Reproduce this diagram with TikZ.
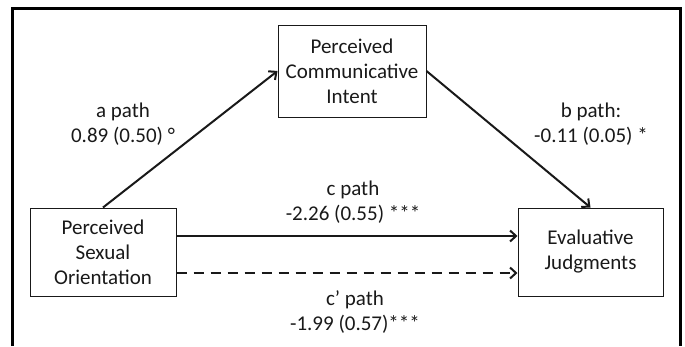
\documentclass[tikz,border=0pt]{standalone}
\usepackage{fontspec}
\setmainfont{Carlito}
\usetikzlibrary{arrows.meta,positioning}

\begin{document}
\begin{tikzpicture}[x=1pt,y=-1pt,
  every node/.style={font=\fontsize{21}{25}\selectfont,text=ink},
  var/.style={draw=ink,line width=1pt,align=center,minimum width=146pt,minimum height=88pt,inner sep=2pt},
  lbl/.style={align=center},
  effect/.style={draw=ink,line width=2pt,-{Straight Barb[length=6pt,width=11pt]}}]
\definecolor{ink}{rgb}{0.1,0.1,0.1}
\useasboundingbox (0,0) rectangle (685,346);
\draw[black,line width=3pt] (12,346) -- (12,8) -- (680,8) -- (680,346);
\node[var] (soi) at (103,252) {Perceived\\Sexual\\Orientation};
\node[var,minimum width=148pt,minimum height=92pt] (pci) at (352,71) {Perceived\\Communicative\\Intent};
\node[var,minimum width=145pt] (evj) at (590.5,252) {Evaluative\\Judgments};
% paths
\draw[effect] (soi.north) -- (pci.west);
\draw[effect] (pci.east) -- (evj.north);
\draw[effect] ([yshift=16pt]soi.east) -- ([yshift=16pt]evj.west);
\draw[effect,dash pattern=on 10pt off 7pt] ([yshift=-21pt]soi.east) -- ([yshift=-21pt]evj.west);
\node[lbl] (apath) at (123,124.5) {a path\\0.89 (0.50) °};
\node[lbl] (bpath) at (591,124.5) {b path:\\-0.11 (0.05) *};
\node[lbl] (cpath) at (353,202) {c path\\-2.26 (0.55) ***};
\node[lbl] (cppath) at (355,312) {c’ path\\-1.99 (0.57)***};
\end{tikzpicture}
\end{document}
